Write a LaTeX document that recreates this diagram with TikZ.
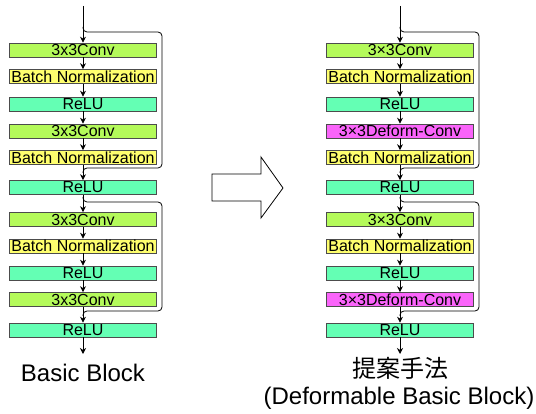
\documentclass[tikz,border=0pt]{standalone}
\usepackage{fontspec}
\setmainfont{Liberation Sans}
\newfontfamily\cjk{Noto Sans CJK JP}
\usetikzlibrary{arrows.meta}
\definecolor{convc}{RGB}{180,250,90}
\definecolor{bnc}{RGB}{255,255,110}
\definecolor{reluc}{RGB}{100,255,180}
\definecolor{dconvc}{RGB}{250,100,250}
\tikzset{
  blk/.style={draw=black!70, line width=0.6pt, minimum width=147pt, minimum height=14pt,
    inner sep=0pt, font=\fontsize{16}{16}\selectfont},
  conv/.style={blk, fill=convc},
  bn/.style={blk, fill=bnc},
  relu/.style={blk, fill=reluc},
  dconv/.style={blk, fill=dconvc},
  flow/.style={-{Stealth[length=6pt,width=6pt]}, line width=0.8pt},
  skip/.style={line width=0.8pt, rounded corners=4pt},
  title/.style={font=\fontsize{24}{28}\selectfont}
}

\begin{document}
\begin{tikzpicture}[x=1pt,y=-1pt]
\useasboundingbox (0,0) rectangle (536,414);
% basic block
\coordinate (l-top) at (83,6);
\node[conv]  (l1)  at (83,50)    {3x3Conv};
\node[bn]    (l2)  at (83,76.5)  {Batch Normalization};
\node[relu]  (l3)  at (83,104)   {ReLU};
\node[conv]  (l4)  at (83,131)   {3x3Conv};
\node[bn]    (l5)  at (83,157.5) {Batch Normalization};
\node[relu]  (l6)  at (83,187.5) {ReLU};
\node[conv]  (l7)  at (83,219.5) {3x3Conv};
\node[bn]    (l8)  at (83,246)   {Batch Normalization};
\node[relu]  (l9)  at (83,273)   {ReLU};
\node[conv]  (l10) at (83,299.5) {3x3Conv};
\node[relu]  (l11) at (83,330)   {ReLU};
\coordinate (l-end) at (83,354);
\node[title] (l-name) at (83,373) {Basic Block};
%
\draw[flow] (l-top) -- (l1);
\foreach \a/\b in {l1/l2,l2/l3,l3/l4,l4/l5,l5/l6,l6/l7,l7/l8,l8/l9,l9/l10,l10/l11}
  \draw[flow] (\a) -- (\b);
\draw[flow] (l11) -- (l-end);
\coordinate (l-s1) at (83,27);
\coordinate (l-c1) at (162,32);
\coordinate (l-d1) at (162,168);
\coordinate (l-e1) at (83,173);
\coordinate (l-s2) at (83,197);
\coordinate (l-c2) at (162,202);
\coordinate (l-d2) at (162,311);
\coordinate (l-e2) at (83,316);
\draw[skip] (l-s1) |- (l-c1) -- (l-d1) -| (l-e1);
\draw[skip] (l-s2) |- (l-c2) -- (l-d2) -| (l-e2);
% big arrow
\draw[line width=0.8pt] (212,174) -- (261,174) -- (261,157) -- (283,188)
  -- (261,218) -- (261,201) -- (212,201) -- cycle;
% deformable basic block
\coordinate (r-top) at (400,6);
\node[conv]  (r1)  at (400,50)    {3\texttimes3Conv};
\node[bn]    (r2)  at (400,76.5)  {Batch Normalization};
\node[relu]  (r3)  at (400,104)   {ReLU};
\node[dconv] (r4)  at (400,131)   {3\texttimes3Deform-Conv};
\node[bn]    (r5)  at (400,157.5) {Batch Normalization};
\node[relu]  (r6)  at (400,187.5) {ReLU};
\node[conv]  (r7)  at (400,219.5) {3\texttimes3Conv};
\node[bn]    (r8)  at (400,246)   {Batch Normalization};
\node[relu]  (r9)  at (400,273)   {ReLU};
\node[dconv] (r10) at (400,299.5) {3\texttimes3Deform-Conv};
\node[relu]  (r11) at (400,330)   {ReLU};
\coordinate (r-end) at (400,354);
\node[title] (r-name) at (400,368) {\cjk 提案手法};
\node[title] (r-sub)  at (399,398) {(Deformable Basic Block)};
%
\draw[flow] (r-top) -- (r1);
\foreach \a/\b in {r1/r2,r2/r3,r3/r4,r4/r5,r5/r6,r6/r7,r7/r8,r8/r9,r9/r10,r10/r11}
  \draw[flow] (\a) -- (\b);
\draw[flow] (r11) -- (r-end);
\coordinate (r-s1) at (400,27);
\coordinate (r-c1) at (479,32);
\coordinate (r-d1) at (479,168);
\coordinate (r-e1) at (400,173);
\coordinate (r-s2) at (400,197);
\coordinate (r-c2) at (479,202);
\coordinate (r-d2) at (479,311);
\coordinate (r-e2) at (400,316);
\draw[skip] (r-s1) |- (r-c1) -- (r-d1) -| (r-e1);
\draw[skip] (r-s2) |- (r-c2) -- (r-d2) -| (r-e2);
\end{tikzpicture}
\end{document}
